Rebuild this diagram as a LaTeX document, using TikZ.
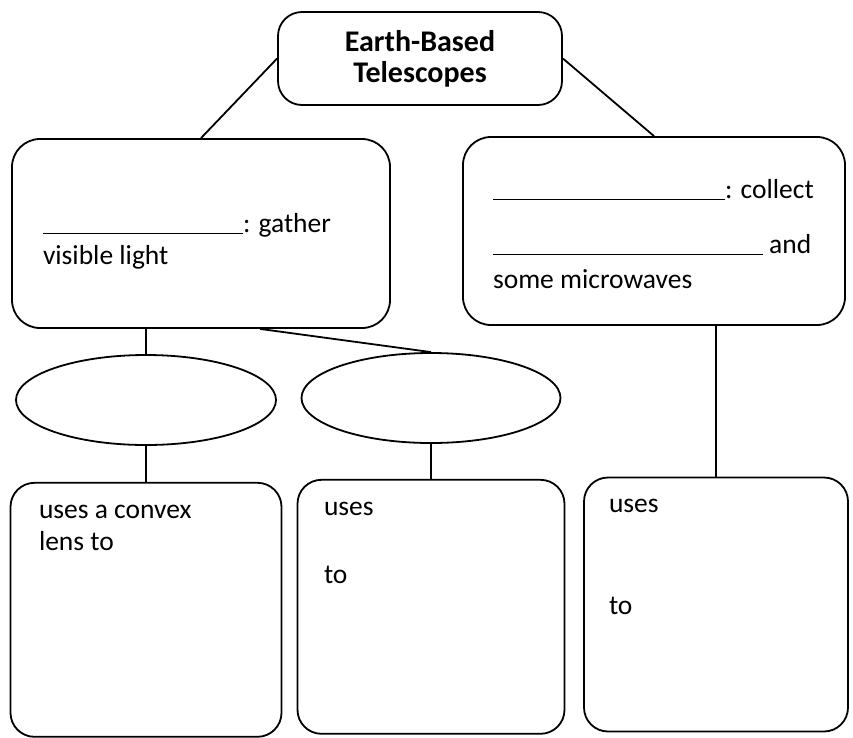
\documentclass[tikz,border=0pt]{standalone}
\usepackage{fontspec}
\setmainfont{Carlito}
\usetikzlibrary{positioning,shapes.geometric}

\newcommand{\answerline}[1]{\rule[-1pt]{#1}{0.9pt}}
\newcommand{\leaf}[1]{\parbox[t][210pt][t]{214pt}{\raggedright #1}}

\begin{document}
\begin{tikzpicture}[x=1pt,y=-1pt,line width=1.8pt,
  font=\fontsize{27.5}{32}\selectfont,
  head node/.style={draw,rounded corners=24pt,minimum width=284pt,minimum height=93pt,align=flush center,font=\fontsize{30}{31}\selectfont\bfseries},
  group node/.style={draw,rounded corners=28pt,align=flush left,inner sep=0pt},
  type node/.style={draw,ellipse,minimum width=260pt,minimum height=90pt,inner sep=0pt},
  use node/.style={draw,rounded corners=24pt,text width=214pt,align=flush left,inner xsep=20pt,inner ysep=22pt}]

  \useasboundingbox (0,0) rectangle (853,737);

  \node[head node]   (scopes) at (420,58.5) {Earth-Based\\Telescopes};
  \node[group node,minimum width=378pt,minimum height=189pt,text width=316pt] (optical) at (201,233.5)
    {\rule{0pt}{35pt}\answerline{200pt}: gather\\visible light};
  \node[group node,minimum width=382pt,minimum height=188pt,text width=322pt] (radio) at (654,231)
    {\rule{0pt}{25pt}\answerline{232pt}: collect\\[23pt]\answerline{270pt} and\\[3pt]some microwaves};
  \node[type node]   (refr) at (146,400) {};
  \node[type node,minimum width=259pt] (refl) at (431,398) {};
  \node[use node,minimum width=271pt] (lens) [below=36pt of refr] {\leaf{uses a convex\\lens to}};
  \node[use node,minimum width=267pt] (mirror) [below=35pt of refl] {\leaf{uses\\[36pt]to}};
  \node[use node,minimum width=264pt] (dish) at (716,604.5) {\leaf{uses\\[70pt]to}};

  \path
    (scopes.west) edge (optical.north)
    (scopes.east) edge (radio.north)
    (refr.north |- optical.south) edge (refr.north)
    ([xshift=59pt]optical.south) edge (refl.north)
    (dish.north |- radio.south) edge (dish.north)
    (refr.south) edge (refr.south |- lens.north)
    (refl.south) edge (refl.south |- mirror.north);
\end{tikzpicture}
\end{document}
